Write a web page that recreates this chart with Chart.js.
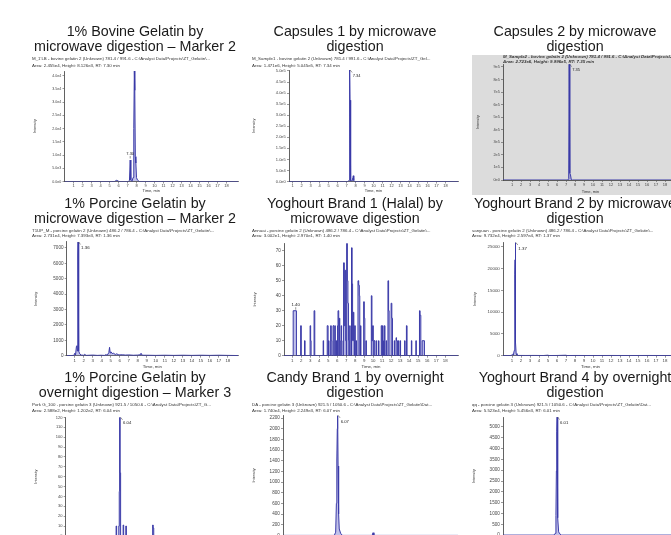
<!DOCTYPE html>
<html><head><meta charset="utf-8">
<script src="https://cdn.jsdelivr.net/npm/chart.js@4.4.1/dist/chart.umd.min.js"></script>
<style>
html,body{margin:0;padding:0;background:#fff;overflow:hidden;width:671px;height:535px;position:relative;}
canvas{position:absolute;}
#grey{position:absolute;left:472px;top:55px;width:210px;height:140px;background:#dcdcdc;}
</style></head><body>
<div id="grey"></div>
<script>
// ---------------- DATA ----------------
const xTickValues = [1,2,3,4,5,6,7,8,9,10,11,12,13,14,15,16,17,18];
const xTickLabels = ['1','2','3','4','5','6','7','8','9','10','11','12','13','14','15','16','17','18'];

const titles = [
  ['1% Bovine Gelatin by', 'microwave digestion \u2013 Marker 2'],
  ['Capsules 1 by microwave', 'digestion'],
  ['Capsules 2 by microwave', 'digestion'],
  ['1% Porcine Gelatin by', 'microwave digestion \u2013 Marker 2'],
  ['Yoghourt Brand 1 (Halal) by', 'microwave digestion'],
  ['Yoghourt Brand 2 by microwave', 'digestion'],
  ['1% Porcine Gelatin by', 'overnight digestion \u2013 Marker 3'],
  ['Candy Brand 1 by overnight', 'digestion'],
  ['Yoghourt Brand 4 by overnight', 'digestion']
];
const subtitles = [
  ["M_1'LB - bovine gelatin 2 (Unknown) 781.4 / 991.6 - C:\\Analyst Data\\Projects\\ZT_Gelatin\\...", 'Area: 2.455e4, Height: 8.126e3, RT: 7.30 min'],
  ['M_Sample1 - bovine gelatin 2 (Unknown) 781.4 / 991.6 - C:\\Analyst Data\\Projects\\ZT_Gel...', 'Area: 1.471e6, Height: 5.045e5, RT: 7.34 min'],
  ['M_Sample2 - bovine gelatin 2 (Unknown) 781.4 / 991.6 - C:\\Analyst Data\\Projects\\ZT_', 'Area: 2.723e6, Height: 9.996e5, RT: 7.35 min'],
  ['T1UP_M - porcine gelatin 2 (Unknown) 486.2 / 786.4 - C:\\Analyst Data\\Projects\\ZT_Gelatin\\...', 'Area: 2.731e4, Height: 7.393e3, RT: 1.36 min'],
  ['Annuai - porcine gelatin 2 (Unknown) 486.2 / 786.4 - C:\\Analyst Data\\Projects\\ZT_Gelatin\\...', 'Area: 3.002e1, Height: 2.970e1, RT: 1.40 min'],
  ['sanyuan - porcine gelatin 2 (Unknown) 486.2 / 786.4 - C:\\Analyst Data\\Projects\\ZT_Gelatin\\...', 'Area: 9.732e4, Height: 2.597e4, RT: 1.37 min'],
  ['Pork G_100 - porcine gelatin 3 (Unknown) 921.5 / 1050.6 - C:\\Analyst Data\\Projects\\ZT_G...', 'Area: 2.588e2, Height: 1.202e2, RT: 6.04 min'],
  ['DA - porcine gelatin 3 (Unknown) 921.5 / 1050.6 - C:\\Analyst Data\\Projects\\ZT_Gelatin\\Dat...', 'Area: 1.740e4, Height: 2.249e3, RT: 6.07 min'],
  ['qq - porcine gelatin 3 (Unknown) 921.5 / 1050.6 - C:\\Analyst Data\\Projects\\ZT_Gelatin\\Dat...', 'Area: 5.523e4, Height: 5.456e3, RT: 6.01 min']
];

// chromatogram traces (time in min, intensity in cps)
const p1Time = [0, 5.55, 5.8, 6.05, 7.12, 7.22, 7.30, 7.37, 7.5, 7.62, 7.7, 7.76, 7.81, 7.87, 7.93, 8.0, 8.1, 8.3, 19.28];
const p1Intensity = [0, 0, 450, 0, 0, 500, 8126, 600, 0, 1500, 20000, 41800, 34500, 9400, 7000, 1500, 600, 0, 0];

const p2Time = [0.6, 7.15, 7.28, 7.34, 7.38, 7.42, 7.48, 7.6, 7.7, 7.75, 7.8, 7.9, 19.38];
const p2Intensity = [0, 0, 5000, 504500, 368000, 20000, 4000, 1500, 18000, 26000, 5000, 0, 0];

const p3Time = [0, 7.2, 7.3, 7.35, 7.4, 7.44, 7.5, 7.58, 7.7, 19.44];
const p3Intensity = [0, 0, 10000, 999600, 703000, 55000, 40000, 5000, 0, 0];

const p4Time = [0.1, 0.9, 1.0, 1.08, 1.18, 1.24, 1.29, 1.33, 1.36, 1.4, 1.46, 1.55, 1.7, 2.0, 2.1, 2.25, 3.0, 3.5, 3.9, 4.3, 4.45, 4.6, 4.78, 4.86, 4.93, 5.02, 5.15, 5.3, 5.5, 5.65, 5.9, 6.3, 6.6, 7.0, 7.5, 8.0, 8.25, 8.35, 8.5, 9.0, 10.0, 11.0, 12.0, 13.0, 14.0, 15.0, 16.0, 17.0, 18.0, 19.13];
const p4Intensity = [0, 20, 160, 40, 600, 650, 300, 6540, 7393, 1800, 300, 120, 40, 30, 90, 20, 40, 20, 30, 20, 70, 30, 200, 545, 180, 250, 140, 160, 80, 120, 50, 60, 40, 50, 30, 40, 60, 160, 30, 30, 20, 30, 20, 30, 20, 30, 20, 30, 20, 10];

const p5Time = [0.1, 1.12, 1.48, 1.95, 2.02, 2.38, 2.44, 3.0, 3.06, 3.11, 3.44, 3.52, 4.45, 4.5, 4.9, 5.0, 5.05, 5.1, 5.28, 5.35, 5.42, 5.55, 5.65, 5.75, 5.8, 5.9, 5.95, 6.05, 6.1, 6.18, 6.25, 6.3, 6.35, 6.45, 6.5, 6.55, 6.72, 6.8, 6.88, 6.95, 7.02, 7.06, 7.14, 7.2, 7.26, 7.3, 7.4, 7.45, 7.6, 7.67, 7.72, 7.8, 7.86, 7.9, 7.95, 8.02, 8.1, 8.15, 8.32, 8.4, 8.47, 8.52, 8.6, 8.65, 8.95, 9.02, 9.08, 9.2, 9.25, 9.8, 9.87, 9.95, 10.02, 10.1, 10.2, 10.35, 10.4, 10.6, 10.65, 10.9, 10.97, 11.05, 11.1, 11.15, 11.25, 11.32, 11.45, 11.5, 11.65, 11.72, 11.78, 12.0, 12.08, 12.15, 12.35, 12.4, 12.55, 12.6, 12.7, 12.8, 12.85, 13.0, 13.05, 13.5, 13.55, 13.7, 13.77, 14.25, 14.3, 14.75, 14.8, 15.15, 15.22, 15.3, 15.45, 15.55, 15.7, 19.43];
const p5Intensity = [0, 30, 0, 20, 0, 10, 0, 20, 10, 0, 30, 0, 10, 0, 20, 0, 10, 0, 20, 10, 0, 20, 0, 20, 0, 10, 0, 20, 30, 0, 25, 10, 0, 20, 10, 0, 62, 20, 57, 10, 0, 75, 50, 35, 10, 0, 20, 0, 72, 48, 10, 29, 10, 0, 20, 0, 10, 0, 50, 47, 40, 0, 20, 0, 36, 25, 0, 10, 0, 40, 10, 20, 0, 10, 0, 10, 0, 10, 0, 20, 0, 20, 10, 0, 20, 0, 10, 0, 50, 30, 0, 35, 25, 0, 10, 0, 12, 10, 0, 10, 0, 10, 0, 10, 0, 20, 0, 10, 0, 10, 0, 30, 27, 0, 10, 10, 0, 0];

const p6Time = [0, 0.9, 1.05, 1.15, 1.25, 1.31, 1.34, 1.37, 1.41, 1.46, 1.55, 1.7, 2.5, 3.5, 4.5, 5.0, 5.1, 6.0, 7.0, 7.1, 8.0, 10.0, 12.0, 14.0, 16.0, 18.0, 19.44];
const p6Intensity = [0, 40, 300, 150, 1200, 18700, 22000, 25970, 3000, 500, 150, 60, 50, 60, 40, 120, 40, 50, 110, 40, 50, 40, 50, 40, 50, 40, 30];

const p7Time = [0, 5.6, 5.66, 5.9, 5.95, 5.99, 6.05, 6.1, 6.38, 6.44, 6.68, 6.74, 9.66, 9.72, 9.78, 19.14];
const p7Intensity = [0, 10, 0, 10, 45, 120.2, 64, 0, 11, 0, 10, 0, 11, 8, 0, 0];

const p8Time = [0, 5.7, 5.85, 5.93, 5.98, 6.03, 6.07, 6.12, 6.18, 6.25, 6.4, 6.6, 9.9, 10.0, 10.1, 19.44];
const p8Intensity = [0, 0, 60, 600, 1413, 2000, 2249, 1300, 400, 120, 40, 0, 0, 50, 0, 0];

const p9Time = [0, 5.65, 5.8, 5.88, 5.93, 5.97, 6.01, 6.05, 6.1, 6.18, 6.3, 6.5, 19.44];
const p9Intensity = [0, 0, 80, 900, 2965, 4780, 5456, 3200, 800, 150, 60, 0, 0];

const steppedTrace = [false, false, false, false, true, false, true, false, false];

// y axis ticks
const p1YTicks = [0, 5000, 10000, 15000, 20000, 25000, 30000, 35000, 40000];
const p1YLabels = ['0.0e0', '5.0e3', '1.0e4', '1.5e4', '2.0e4', '2.5e4', '3.0e4', '3.5e4', '4.0e4'];
const p2YTicks = [0, 50000, 100000, 150000, 200000, 250000, 300000, 350000, 400000, 450000, 500000];
const p2YLabels = ['0.0e0', '5.0e4', '1.0e5', '1.5e5', '2.0e5', '2.5e5', '3.0e5', '3.5e5', '4.0e5', '4.5e5', '5.0e5'];
const p3YTicks = [0, 100000, 200000, 300000, 400000, 500000, 600000, 700000, 800000, 900000];
const p3YLabels = ['0e0', '1e5', '2e5', '3e5', '4e5', '5e5', '6e5', '7e5', '8e5', '9e5'];
const p4YTicks = [0, 1000, 2000, 3000, 4000, 5000, 6000, 7000];
const p4YLabels = ['0', '1000', '2000', '3000', '4000', '5000', '6000', '7000'];
const p5YTicks = [0, 10, 20, 30, 40, 50, 60, 70];
const p5YLabels = ['0', '10', '20', '30', '40', '50', '60', '70'];
const p6YTicks = [0, 5000, 10000, 15000, 20000, 25000];
const p6YLabels = ['0', '5000', '10000', '15000', '20000', '25000'];
const p7YTicks = [0, 10, 20, 30, 40, 50, 60, 70, 80, 90, 100, 110, 120];
const p7YLabels = ['0', '10', '20', '30', '40', '50', '60', '70', '80', '90', '100', '110', '120'];
const p8YTicks = [0, 200, 400, 600, 800, 1000, 1200, 1400, 1600, 1800, 2000, 2200];
const p8YLabels = ['0', '200', '400', '600', '800', '1000', '1200', '1400', '1600', '1800', '2000', '2200'];
const p9YTicks = [0, 500, 1000, 1500, 2000, 2500, 3000, 3500, 4000, 4500, 5000];
const p9YLabels = ['0', '500', '1000', '1500', '2000', '2500', '3000', '3500', '4000', '4500', '5000'];

// axis ranges
const xMin = [0, 0.6, 0, 0.1, 0.1, 0, 0, 0, 0];
const xMax = [19.28, 19.38, 19.44, 19.13, 19.43, 19.44, 19.14, 19.44, 19.44];
const yMax = [41800, 504500, 922000, 7393, 75, 25970, 120.2, 2249, 5456];

// peak annotations
const peakRT = [7.30, 7.34, 7.35, 1.36, 1.40, 1.37, 6.04, 6.07, 6.01];
const peakHeight = [8126, 504500, 999600, 7393, 29.7, 25970, 120.2, 2249, 5456];
const peakText = ['7.30', '7.34', '7.35', '1.36', '1.40', '1.37', '6.04', '6.07', '6.01'];
const peakSide = ['top', 'right', 'right', 'right', 'top', 'right', 'right', 'right', 'right'];

const times = [p1Time, p2Time, p3Time, p4Time, p5Time, p6Time, p7Time, p8Time, p9Time];
const intensities = [p1Intensity, p2Intensity, p3Intensity, p4Intensity, p5Intensity, p6Intensity, p7Intensity, p8Intensity, p9Intensity];
const yTicks = [p1YTicks, p2YTicks, p3YTicks, p4YTicks, p5YTicks, p6YTicks, p7YTicks, p8YTicks, p9YTicks];
const yLabels = [p1YLabels, p2YLabels, p3YLabels, p4YLabels, p5YLabels, p6YLabels, p7YLabels, p8YLabels, p9YLabels];

// ---------------- LAYOUT / STYLE ----------------
const panelLayout = [
  {left:23,  top:20,  h:173, yW:32.5, xH:11.5, tPad:4.8, sLH:7,   sPT:0,    sPB:2.2,  yTP:0.7, yF:3.6, xF:4.0},
  {left:243, top:20,  h:173, yW:37,   xH:11.5, tPad:4.8, sLH:7,   sPT:0,    sPB:1.2,  yTP:0,   yF:4.0, xF:4.0},
  {left:463, top:20,  h:174, yW:31,   xH:14,   tPad:4.8, sLH:4.7, sPT:0,    sPB:0,    yTP:3.5, yF:3.8, xF:4.0, special:true},
  {left:23,  top:192, h:177, yW:34.7, xH:13.3, tPad:4.5, sLH:5.3, sPT:1.55, sPB:3.3,  yTP:1.7, yF:4.6, xF:4.4},
  {left:243, top:192, h:177, yW:32,   xH:13.3, tPad:4.5, sLH:5.3, sPT:1.55, sPB:4.65, yTP:0.7, yF:4.6, xF:4.4},
  {left:463, top:192, h:177, yW:31,   xH:13.3, tPad:4.5, sLH:5.3, sPT:1.55, sPB:3.85, yTP:0.7, yF:4.4, xF:4.4},
  {left:23,  top:366, h:184, yW:33.7, xH:14.1, tPad:4.9, sLH:6.3, sPT:0.25, sPB:3.55, yTP:1.7, yF:4.0, xF:4.2},
  {left:243, top:366, h:184, yW:31,   xH:14.6, tPad:4.9, sLH:6.3, sPT:0.25, sPB:1.65, yTP:0,   yF:4.6, xF:4.2},
  {left:463, top:366, h:184, yW:31,   xH:14.9, tPad:4.9, sLH:6.3, sPT:0.25, sPB:3.35, yTP:0,   yF:4.6, xF:4.2}
];
const FONT = "'Liberation Sans', Arial, Helvetica, sans-serif";
Chart.defaults.font.family = FONT;
const LINE = '#3a3aa8';
const FILL = 'rgba(118,118,206,0.45)';
const AXIS = '#3a3a3a';

const peakLabelPlugin = {
  id: 'peakLabel',
  afterDatasetsDraw(chart, args, opts) {
    if (!opts || !opts.text) return;
    const {ctx, chartArea, scales} = chart;
    const px = scales.x.getPixelForValue(opts.x);
    const py = Math.max(scales.y.getPixelForValue(opts.y), chartArea.top);
    ctx.save();
    ctx.fillStyle = '#222';
    ctx.strokeStyle = '#555';
    ctx.lineWidth = 0.6;
    ctx.font = opts.size + 'px ' + FONT;
    if (opts.side === 'top') {
      ctx.beginPath(); ctx.moveTo(px, py - 1.5); ctx.lineTo(px, py - 4); ctx.stroke();
      ctx.textAlign = 'center'; ctx.textBaseline = 'bottom';
      ctx.fillText(opts.text, px, py - 4.5);
    } else {
      ctx.beginPath(); ctx.moveTo(px + 0.5, py); ctx.lineTo(px + 2.5, py + 2.5); ctx.stroke();
      ctx.textAlign = 'left'; ctx.textBaseline = 'middle';
      ctx.fillText(opts.text, px + 3, py + 6);
    }
    ctx.restore();
  }
};

panelLayout.forEach((L, i) => {
  const cv = document.createElement('canvas');
  cv.width = 220; cv.height = L.h;
  cv.style.left = L.left + 'px'; cv.style.top = L.top + 'px';
  cv.style.width = '220px'; cv.style.height = L.h + 'px';
  document.body.appendChild(cv);
  const pts = times[i].map((t, k) => ({x: t, y: intensities[i][k]}));
  const ticksY = yTicks[i], labsY = yLabels[i];
  new Chart(cv, {
    type: 'line',
    data: { datasets: [{
      data: pts,
      borderColor: LINE,
      backgroundColor: FILL,
      borderWidth: 1,
      fill: 'origin',
      pointRadius: 0,
      tension: 0,
      stepped: steppedTrace[i]
    }]},
    options: {
      responsive: false,
      devicePixelRatio: 1,
      animation: false,
      events: [],
      layout: { padding: { left: 9, right: 5, top: 0, bottom: 0 } },
      plugins: {
        legend: { display: false },
        tooltip: { enabled: false },
        title: {
          display: true,
          text: titles[i],
          color: '#1a1a1a',
          font: { family: FONT, size: 14.3, weight: 'normal', lineHeight: '15px' },
          padding: { top: L.tPad, bottom: 0 }
        },
        subtitle: {
          display: true,
          text: subtitles[i],
          align: 'start',
          fullSize: !L.special,
          color: '#333',
          font: { family: FONT, size: 4.4, weight: L.special ? 'bold' : 'normal', style: L.special ? 'italic' : 'normal', lineHeight: L.sLH + 'px' },
          padding: { top: L.sPT, bottom: L.sPB }
        },
        peakLabel: { x: peakRT[i], y: peakHeight[i], text: peakText[i], side: peakSide[i], size: L.xF }
      },
      scales: {
        x: {
          type: 'linear',
          min: xMin[i], max: xMax[i],
          afterFit: s => { s.height = L.xH; },
          afterBuildTicks: s => { s.ticks = xTickValues.map(v => ({value: v})); },
          ticks: { autoSkip: false, maxRotation: 0, padding: 0.3, color: '#444',
                   font: { size: L.xF, lineHeight: 1.1 },
                   callback: (v, k) => xTickLabels[k] },
          grid: { display: true, drawOnChartArea: false, drawTicks: true, tickLength: 2, color: '#555', lineWidth: 0.6 },
          border: { display: true, color: AXIS, width: 0.8 },
          title: { display: true, text: 'Time, min', color: '#333', font: { size: L.xF, lineHeight: 1.2 }, padding: 0 }
        },
        y: {
          min: 0, max: yMax[i],
          afterFit: s => { s.width = L.yW; },
          afterBuildTicks: s => { s.ticks = ticksY.map(v => ({value: v})); },
          ticks: { autoSkip: false, padding: 1.2, color: '#444',
                   font: { size: L.yF, lineHeight: 1.1 },
                   callback: (v, k) => labsY[k] },
          grid: { display: true, drawOnChartArea: false, drawTicks: true, tickLength: 2, color: '#555', lineWidth: 0.6 },
          border: { display: true, color: AXIS, width: 0.8 },
          title: { display: true, text: 'Intensity', color: '#333', font: { size: 3.8, lineHeight: 1.2 }, padding: { top: L.yTP, bottom: 0 } }
        }
      }
    },
    plugins: [peakLabelPlugin]
  });
});
</script>
</body></html>
